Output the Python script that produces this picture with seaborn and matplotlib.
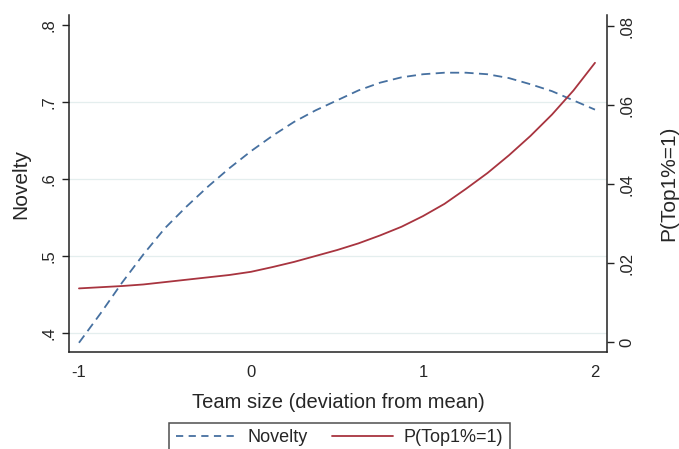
import matplotlib
matplotlib.use('Agg')
import matplotlib.pyplot as plt
import seaborn as sns
import pandas as pd
from matplotlib.lines import Line2D

# Values
team_size = [-1.0, -0.875, -0.75, -0.625, -0.5, -0.375, -0.25, -0.125, 0.0,
             0.125, 0.25, 0.375, 0.5, 0.625, 0.75, 0.875, 1.0,
             1.125, 1.25, 1.375, 1.5, 1.625, 1.75, 1.875, 2.0]
novelty = [0.387, 0.425, 0.465, 0.502, 0.536, 0.564, 0.590, 0.614, 0.636,
           0.656, 0.674, 0.689, 0.702, 0.715, 0.725, 0.732, 0.736,
           0.738, 0.738, 0.736, 0.731, 0.723, 0.714, 0.702, 0.690]
p_top1 = [0.0136, 0.0139, 0.0142, 0.0146, 0.0152, 0.0158, 0.0164, 0.0170, 0.0178,
          0.0190, 0.0203, 0.0218, 0.0233, 0.0250, 0.0270, 0.0292, 0.0319,
          0.0350, 0.0388, 0.0428, 0.0473, 0.0522, 0.0576, 0.0637, 0.0707]

left_ticks = [0.4, 0.5, 0.6, 0.7, 0.8]
left_labels = [".4", ".5", ".6", ".7", ".8"]
right_ticks = [0.0, 0.02, 0.04, 0.06, 0.08]
right_labels = ["0", ".02", ".04", ".06", ".08"]
x_ticks = [-1, 0, 1, 2]
x_labels = ["-1", "0", "1", "2"]

BLUE = "#4670a0"
RED = "#a8343f"

sns.set_style("white")
plt.rcParams['font.family'] = ['Liberation Sans', 'DejaVu Sans']

df = pd.DataFrame({"team_size": team_size, "novelty": novelty, "p_top1": p_top1})

fig = plt.figure(figsize=(6.79, 4.49), dpi=100)
ax = fig.add_axes([0.1016, 0.216, 0.7924, 0.7506])
ax2 = ax.twinx()

# Novelty, left axis (dashed)
sns.lineplot(data=df, x="team_size", y="novelty", ax=ax, color=BLUE, lw=1.3)
ax.lines[0].set_dashes([5, 3])
# P(Top1%=1), right axis
sns.lineplot(data=df, x="team_size", y="p_top1", ax=ax2, color=RED, lw=1.3)

ax.set_xlim(-1.058, 2.07)
ax.set_ylim(0.375, 0.813)
ax2.set_ylim(-0.0025, 0.0828)

# light horizontal grid at left ticks
for v in left_ticks[:-1]:
    ax.axhline(v, color="#e4eeee", lw=0.9, zorder=0)

ax.set_xticks(x_ticks)
ax.set_xticklabels(x_labels, fontsize=12)
ax.set_yticks(left_ticks)
ax.set_yticklabels(left_labels, fontsize=12, rotation=90, va="center")
ax2.set_yticks(right_ticks)
ax2.set_yticklabels(right_labels, fontsize=12, rotation=90, va="center")

for a in (ax, ax2):
    a.tick_params(direction="out", length=5, width=1.0, color="#222222", pad=4)
    a.spines["top"].set_visible(False)
    for s in a.spines.values():
        s.set_linewidth(1.1)
        s.set_color("#222222")
ax.spines["right"].set_visible(False)
ax2.spines["left"].set_visible(False)
ax2.spines["bottom"].set_visible(False)

ax.set_xlabel("Team size (deviation from mean)", fontsize=14.5, labelpad=10)
ax.set_ylabel("Novelty", fontsize=15, labelpad=8)
ax2.set_ylabel("P(Top1%=1)", fontsize=15, labelpad=18)

handles = [Line2D([], [], color=BLUE, lw=1.3, dashes=[4, 3]),
           Line2D([], [], color=RED, lw=1.3)]
leg = fig.legend(handles, ["Novelty", "P(Top1%=1)"], loc="upper center",
                 bbox_to_anchor=(0.5, 0.058), ncol=2, fontsize=13,
                 frameon=True, fancybox=False, edgecolor="#222222",
                 handlelength=3.4, handletextpad=0.6, columnspacing=1.3,
                 borderpad=0.35, borderaxespad=0)
leg.get_frame().set_linewidth(1.1)

fig.savefig("out.png", dpi=100)
plt.close(fig)
